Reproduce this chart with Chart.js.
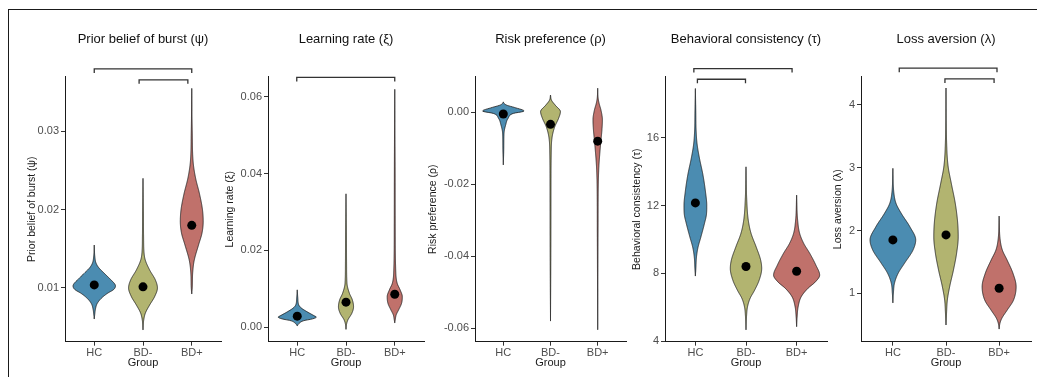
<!DOCTYPE html>
<html>
<head>
<meta charset="utf-8">
<script src="https://cdn.jsdelivr.net/npm/chart.js@4.4.0/dist/chart.umd.min.js"></script>
<style>
html, body { margin: 0; padding: 0; background: #fff; width: 1037px; height: 377px; overflow: hidden; }
#frame { position: absolute; left: 8px; top: 9px; width: 1060px; height: 400px; border: 1.5px solid #1a1a1a; box-sizing: border-box; }
canvas { position: absolute; top: 0; }
</style>
</head>
<body>
<div id="frame"></div>
<script>
// Groups
const groups = ['HC', 'BD-', 'BD+'];
const groupColors = ['#4b8cb1', '#b2b470', '#c0716b'];

// Violin profiles: [value, half-width in group units], top to bottom
// Prior belief of burst (psi)
const psiHC = [[0.01548, 0], [0.0140, 0.012], [0.0132, 0.035], [0.0126, 0.09], [0.0119, 0.2], [0.0111, 0.33], [0.0105, 0.42], [0.01025, 0.435], [0.0098, 0.40], [0.0093, 0.27], [0.0087, 0.15], [0.0080, 0.06], [0.0073, 0.025], [0.0066, 0.01], [0.0060, 0]];
const psiBDm = [[0.0240, 0], [0.020, 0.008], [0.0165, 0.012], [0.0146, 0.02], [0.0136, 0.045], [0.0123, 0.135], [0.0110, 0.255], [0.0100, 0.296], [0.0089, 0.24], [0.0078, 0.135], [0.0068, 0.05], [0.0059, 0.015], [0.0046, 0]];
const psiBDp = [[0.0355, 0], [0.030, 0.01], [0.026, 0.03], [0.024, 0.08], [0.022, 0.16], [0.020, 0.22], [0.0185, 0.235], [0.017, 0.21], [0.0155, 0.14], [0.0135, 0.05], [0.012, 0.02], [0.0100, 0.01], [0.0092, 0]];
const psiMeans = [0.01038, 0.01013, 0.0180];
const psiTicks = [0.01, 0.02, 0.03];
const psiTickLabels = ['0.01', '0.02', '0.03'];
const psiBrackets = [[1, 3, 0.0380], [1.92, 2.92, 0.0366]];

// Learning rate (xi)
const xiHC = [[0.0097, 0], [0.0075, 0.012], [0.0058, 0.03], [0.0050, 0.08], [0.0040, 0.2], [0.0030, 0.34], [0.0026, 0.39], [0.0021, 0.3], [0.0017, 0.14], [0.0010, 0.04], [0.0003, 0]];
const xiBDm = [[0.0347, 0], [0.025, 0.008], [0.016, 0.012], [0.0114, 0.02], [0.0088, 0.07], [0.0071, 0.13], [0.0053, 0.155], [0.0036, 0.12], [0.0019, 0.04], [0.0008, 0.012], [-0.0007, 0]];
const xiBDp = [[0.0619, 0], [0.040, 0.008], [0.025, 0.01], [0.0148, 0.02], [0.0114, 0.05], [0.0097, 0.11], [0.0079, 0.155], [0.0062, 0.14], [0.0045, 0.08], [0.0032, 0.03], [0.0019, 0.01], [0.0010, 0]];
const xiMeans = [0.00285, 0.0065, 0.00855];
const xiTicks = [0, 0.02, 0.04, 0.06];
const xiTickLabels = ['0.00', '0.02', '0.04', '0.06'];
const xiBrackets = [[0.99, 3, 0.0650]];

// Risk preference (rho)
const rhoHC = [[0.0029, 0], [0.0025, 0.015], [0.0020, 0.07], [0.0013, 0.25], [0.00036, 0.44], [-0.0003, 0.21], [-0.0017, 0.10], [-0.0035, 0.05], [-0.0058, 0.015], [-0.0096, 0.01], [-0.0147, 0]];
const rhoBDm = [[0.0048, 0], [0.0034, 0.02], [0.0020, 0.10], [0.0002, 0.21], [-0.0017, 0.17], [-0.0040, 0.09], [-0.0068, 0.035], [-0.0114, 0.015], [-0.0225, 0.01], [-0.040, 0.007], [-0.0580, 0]];
const rhoBDp = [[0.0067, 0], [0.0039, 0.01], [0.0025, 0.03], [0.0006, 0.07], [-0.0021, 0.10], [-0.0049, 0.09], [-0.0077, 0.07], [-0.0114, 0.045], [-0.0151, 0.025], [-0.0207, 0.012], [-0.0318, 0.008], [-0.0605, 0]];
const rhoMeans = [-0.00047, -0.00334, -0.0080];
const rhoTicks = [-0.06, -0.04, -0.02, 0];
const rhoTickLabels = ['-0.06', '-0.04', '-0.02', '0.00'];
const rhoBrackets = [];

// Behavioral consistency (tau)
const tauHC = [[18.9, 0], [17.6, 0.008], [16.4, 0.015], [15.6, 0.035], [14.8, 0.08], [13.8, 0.15], [12.8, 0.2], [12.0, 0.225], [11.5, 0.22], [10.94, 0.18], [10.15, 0.11], [9.5, 0.05], [8.9, 0.02], [8.3, 0.01], [7.83, 0]];
const tauBDm = [[14.28, 0], [12.31, 0.015], [11.13, 0.045], [10.35, 0.1], [9.56, 0.2], [8.77, 0.29], [8.28, 0.31], [7.59, 0.26], [7.0, 0.17], [6.51, 0.08], [6.02, 0.03], [5.43, 0.01], [4.64, 0]];
const tauBDp = [[12.61, 0], [11.13, 0.02], [10.35, 0.06], [9.76, 0.14], [9.17, 0.26], [8.48, 0.38], [7.89, 0.455], [7.49, 0.37], [7.10, 0.22], [6.61, 0.09], [6.02, 0.03], [5.43, 0.01], [4.84, 0]];
const tauMeans = [12.15, 8.40, 8.12];
const tauTicks = [4, 8, 12, 16];
const tauTickLabels = ['4', '8', '12', '16'];
const tauBrackets = [[0.97, 2.91, 20.08], [1.04, 1.99, 19.45]];

// Loss aversion (lambda)
const lamHC = [[2.99, 0], [2.59, 0.02], [2.43, 0.06], [2.27, 0.16], [2.06, 0.32], [1.85, 0.43], [1.69, 0.38], [1.48, 0.22], [1.32, 0.1], [1.16, 0.03], [1.0, 0.01], [0.84, 0]];
const lamBDm = [[4.27, 0], [3.39, 0.012], [3.02, 0.04], [2.75, 0.1], [2.43, 0.175], [2.12, 0.22], [1.90, 0.23], [1.64, 0.2], [1.37, 0.14], [1.11, 0.07], [0.89, 0.025], [0.68, 0.01], [0.49, 0]];
const lamBDp = [[2.23, 0], [1.85, 0.02], [1.69, 0.06], [1.53, 0.15], [1.32, 0.26], [1.105, 0.32], [0.89, 0.27], [0.73, 0.15], [0.60, 0.05], [0.52, 0.015], [0.43, 0]];
const lamMeans = [1.85, 1.93, 1.08];
const lamTicks = [1, 2, 3, 4];
const lamTickLabels = ['1', '2', '3', '4'];
const lamBrackets = [[1.12, 2.96, 4.585], [1.98, 2.905, 4.414]];

Chart.defaults.font.family = "'Liberation Sans', Arial, sans-serif";
Chart.defaults.color = '#4d4d4d';

const panels = [
    { title: 'Prior belief of burst (ψ)', violins: [psiHC, psiBDm, psiBDp], means: psiMeans, ticks: psiTicks, labels: psiTickLabels, brackets: psiBrackets, min: 0.00312, max: 0.0370, left: 65, right: 221, gap: 33 },
    { title: 'Learning rate (ξ)', violins: [xiHC, xiBDm, xiBDp], means: xiMeans, ticks: xiTicks, labels: xiTickLabels, brackets: xiBrackets, min: -0.0038, max: 0.0652, left: 268, right: 424, gap: 38 },
    { title: 'Risk preference (ρ)', violins: [rhoHC, rhoBDm, rhoBDp], means: rhoMeans, ticks: rhoTicks, labels: rhoTickLabels, brackets: rhoBrackets, min: -0.0637, max: 0.0099, left: 475, right: 626, gap: 42 },
    { title: 'Behavioral consistency (τ)', violins: [tauHC, tauBDm, tauBDp], means: tauMeans, ticks: tauTicks, labels: tauTickLabels, brackets: tauBrackets, min: 3.96, max: 19.6, left: 665, right: 827, gap: 28 },
    { title: 'Loss aversion (λ)', violins: [lamHC, lamBDm, lamBDp], means: lamMeans, ticks: lamTicks, labels: lamTickLabels, brackets: lamBrackets, min: 0.229, max: 4.45, left: 861, right: 1031, gap: 23 }
];

// monotone cubic interpolation of half-width as a function of value (no overshoot)
function widthFn(prof) {
    const n = prof.length;
    const xs = prof.map(p => p[0]), ys = prof.map(p => p[1]);
    const d = [], m = new Array(n);
    for (let k = 0; k < n - 1; k++) d.push((ys[k + 1] - ys[k]) / (xs[k + 1] - xs[k]));
    m[0] = d[0];
    m[n - 1] = d[n - 2];
    for (let k = 1; k < n - 1; k++) m[k] = d[k - 1] * d[k] <= 0 ? 0 : (d[k - 1] + d[k]) / 2;
    for (let k = 0; k < n - 1; k++) {
        if (d[k] === 0) { m[k] = 0; m[k + 1] = 0; continue; }
        const a = m[k] / d[k], b = m[k + 1] / d[k], s = a * a + b * b;
        if (s > 9) { const t = 3 / Math.sqrt(s); m[k] = t * a * d[k]; m[k + 1] = t * b * d[k]; }
    }
    return v => {
        let k = 0;
        while (k < n - 2 && v < xs[k + 1]) k++;
        const h = xs[k + 1] - xs[k];
        const t = Math.min(1, Math.max(0, (v - xs[k]) / h));
        const t2 = t * t, t3 = t2 * t;
        const w = (2 * t3 - 3 * t2 + 1) * ys[k] + (t3 - 2 * t2 + t) * h * m[k]
            + (-2 * t3 + 3 * t2) * ys[k + 1] + (t3 - t2) * h * m[k + 1];
        return Math.max(0, w);
    };
}

function violinPlugin(p) {
    return {
        id: 'violins',
        beforeDatasetsDraw(chart) {
            const { ctx, scales: { x, y } } = chart;
            p.violins.forEach((prof, g) => {
                const c = g + 1;
                const f = widthFn(prof);
                const top = y.getPixelForValue(prof[0][0]);
                const bot = y.getPixelForValue(prof[prof.length - 1][0]);
                const right = [], left = [];
                for (let py = top; py <= bot + 0.01; py += 0.5) {
                    const w = f(y.getValueForPixel(py));
                    right.push([x.getPixelForValue(c + w), py]);
                    left.push([x.getPixelForValue(c - w), py]);
                }
                const pts = right.concat(left.reverse());
                ctx.save();
                ctx.beginPath();
                pts.forEach(([px, py], i) => i ? ctx.lineTo(px, py) : ctx.moveTo(px, py));
                ctx.closePath();
                ctx.fillStyle = groupColors[g];
                ctx.fill();
                ctx.lineWidth = 0.8;
                ctx.lineJoin = 'round';
                ctx.strokeStyle = '#1a1a1a';
                ctx.stroke();
                ctx.restore();
            });
        },
        afterDraw(chart) {
            const { ctx, scales: { x, y } } = chart;
            ctx.save();
            ctx.strokeStyle = '#333';
            ctx.lineWidth = 1.3;
            p.brackets.forEach(([a, b, v]) => {
                const x1 = x.getPixelForValue(a), x2 = x.getPixelForValue(b), yy = y.getPixelForValue(v);
                ctx.beginPath();
                ctx.moveTo(x1, yy + 4);
                ctx.lineTo(x1, yy);
                ctx.lineTo(x2, yy);
                ctx.lineTo(x2, yy + 4);
                ctx.stroke();
            });
            ctx.restore();
        }
    };
}

panels.forEach(p => {
    const yw = p.gap + 6;
    const padRight = 12;
    const canvas = document.createElement('canvas');
    canvas.width = yw + (p.right - p.left) + padRight;
    canvas.height = 377;
    canvas.style.left = (p.left - yw) + 'px';
    document.body.appendChild(canvas);

    new Chart(canvas, {
        type: 'scatter',
        data: {
            datasets: [{
                data: p.means.map((m, i) => ({ x: i + 1, y: m })),
                pointRadius: 4.5,
                pointBackgroundColor: '#000',
                pointBorderWidth: 0
            }]
        },
        options: {
            responsive: false,
            animation: false,
            events: [],
            layout: { padding: { left: 0, right: padRight, top: 0, bottom: 7 } },
            plugins: {
                legend: { display: false },
                tooltip: { enabled: false },
                title: {
                    display: true, text: p.title, fullSize: false, color: '#111',
                    font: { size: 13, weight: 'normal' },
                    padding: { top: 32, bottom: 29.1 }
                }
            },
            scales: {
                x: {
                    type: 'linear', min: 0.4, max: 3.6,
                    afterBuildTicks: s => { s.ticks = groups.map((_, i) => ({ value: i + 1 })); },
                    afterFit: s => { s.height = 28.3; },
                    ticks: { callback: (v, i) => groups[i], color: '#4d4d4d', font: { size: 11 }, padding: 1, maxRotation: 0, autoSkip: false },
                    grid: { drawOnChartArea: false, drawTicks: true, tickLength: 4, color: '#333' },
                    border: { display: true, color: '#1a1a1a', width: 1 },
                    title: { display: true, text: 'Group', color: '#1a1a1a', font: { size: 11 }, padding: 0 }
                },
                y: {
                    type: 'linear', min: p.min, max: p.max,
                    afterBuildTicks: s => { s.ticks = p.ticks.map(v => ({ value: v })); },
                    afterFit: s => { s.width = yw; },
                    ticks: { callback: (v, i) => p.labels[i], color: '#4d4d4d', font: { size: 11 }, padding: 2 },
                    grid: { drawOnChartArea: false, drawTicks: true, tickLength: 4, color: '#333' },
                    border: { display: true, color: '#1a1a1a', width: 1 },
                    title: { display: true, text: p.title, color: '#1a1a1a', font: { size: 10.5 }, padding: 0 }
                }
            }
        },
        plugins: [violinPlugin(p)]
    });
});
</script>
</body>
</html>
